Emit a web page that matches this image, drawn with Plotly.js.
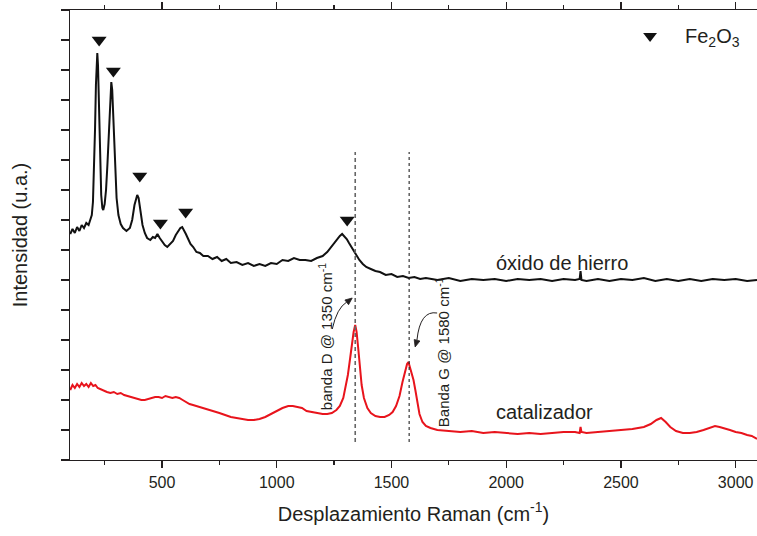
<!DOCTYPE html>
<html>
<head>
<meta charset="utf-8">
<script src="https://cdn.plot.ly/plotly-3.0.1.min.js"></script>
<style>html,body{margin:0;padding:0;background:#fff;}#chart{width:757px;height:536px;}</style>
</head>
<body>
<div id="chart"></div>
<script>
// Raman shift (cm-1) and intensity (a.u.)
var oxidoX = [100,110,120,130,140,150,160,170,180,188,194,199,204,208,212,215,218,221,225,230,235,240,244,250,256,262,267,272,276,279,283,287,292,297,302,310,320,330,345,360,370,380,388,392,398,405,415,425,435,449,460,470,480,490,500,512,523,535,548,560,570,580,588,596,604,614,624,636,650,665,680,700,720,740,760,780,800,825,850,875,900,925,950,975,1000,1025,1050,1075,1100,1125,1150,1175,1200,1220,1240,1260,1275,1285,1295,1305,1315,1325,1335,1345,1360,1375,1390,1410,1430,1450,1475,1500,1525,1550,1575,1600,1625,1650,1700,1750,1800,1850,1900,1950,2000,2050,2100,2150,2200,2250,2300,2320,2324,2328,2350,2400,2450,2500,2550,2600,2650,2700,2750,2800,2850,2900,2950,3000,3050,3093];
var oxidoY = [226,231,227,233,229,235,232,237,235,240,245,258,290,330,375,400,407,395,350,295,265,252,250,256,270,295,325,355,372,378,370,350,315,285,262,245,236,232,229,232,240,255,264,265,262,250,235,227,222,220,223,222,226,222,219,215,213,216,219,225,229,232,233,230,226,221,216,213,208,207,204,204,201,203,199,201,197,198,195,197,194,196,194,197,196,200,199,202,200,200,199,202,204,208,214,220,224,226,224,221,217,213,209,205,200,196,193,191,189,188,185,186,183,184,182,183,181,182,180,182,179,181,180,181,179,181,180,181,179,181,180,181,189,180,179,181,179,181,180,182,179,181,179,181,179,181,180,181,179,180];

var catX = [100,110,120,130,140,150,160,170,180,190,200,210,220,230,245,260,275,290,305,320,335,350,365,380,395,410,425,440,455,470,485,500,515,530,545,560,575,590,605,620,635,650,670,690,710,730,750,775,800,825,850,875,900,925,950,975,1000,1025,1050,1070,1090,1110,1130,1150,1175,1200,1220,1240,1260,1275,1290,1300,1310,1320,1328,1335,1342,1348,1355,1362,1370,1380,1395,1410,1430,1450,1470,1490,1505,1520,1535,1548,1560,1568,1574,1580,1588,1596,1604,1612,1622,1635,1650,1670,1700,1750,1800,1850,1900,1950,2000,2050,2100,2150,2200,2250,2300,2320,2324,2328,2350,2400,2450,2500,2550,2600,2630,2655,2675,2695,2715,2740,2770,2800,2830,2860,2890,2910,2930,2950,2975,3000,3025,3050,3070,3093];
var catY = [70,75,72,76,73,77,74,76,73,77,74,75,72,71,69,68,67,68,66,67,65,64,63,62,61,60,60,61,62,63,63,62,64,63,62,63,62,60,58,56,55,54,53,51,50,49,47,45,43,42,41,40,40,41,43,46,49,52,54,54,53,52,49,48,47,46,46,47,50,54,62,72,85,102,118,128,135,128,112,92,75,62,52,47,44,43,43,45,48,54,64,78,90,96,98,93,86,80,70,58,46,38,34,32,30,29,28,29,27,28,27,26,27,26,27,28,28,27,33,28,27,28,29,30,31,33,36,40,42,38,33,29,27,27,28,30,32,34,33,32,30,28,27,25,24,21];

// Fe2O3 band markers
var fePeakX = [226,288,403,493,603,1307];
var fePeakY = [420,389,284,237,248,240];
var legendX = [2627], legendY = [424];

// Reference lines for D and G bands
var bandDX = 1342, bandGX = 1577;
var bandLineY = [18, 308];

var font = 'Liberation Sans, Arial, sans-serif';
var ink = '#231f20';

var traces = [
  {x: oxidoX, y: oxidoY, type: 'scatter', mode: 'lines', line: {color: '#111111', width: 2}, hoverinfo: 'skip'},
  {x: catX, y: catY, type: 'scatter', mode: 'lines', line: {color: '#e8141c', width: 2}, hoverinfo: 'skip'},
  {x: fePeakX, y: fePeakY, type: 'scatter', mode: 'markers', marker: {symbol: 'triangle-down', size: 13, color: '#111111'}, hoverinfo: 'skip'},
  {x: legendX, y: legendY, type: 'scatter', mode: 'markers', marker: {symbol: 'triangle-down', size: 12, color: '#111111'}, hoverinfo: 'skip'}
];

var layout = {
  width: 757, height: 536,
  margin: {l: 70, r: 0, t: 10, b: 76},
  showlegend: false,
  paper_bgcolor: '#ffffff', plot_bgcolor: '#ffffff',
  font: {family: font, color: ink},
  xaxis: {
    range: [99, 3093], tick0: 0, dtick: 500,
    ticks: 'outside', ticklen: 7, tickwidth: 1.3, tickcolor: ink,
    minor: {ticks: 'outside', tick0: 0, dtick: 250, ticklen: 4, tickwidth: 1.3, tickcolor: ink},
    showline: true, linecolor: ink, linewidth: 1.3, mirror: 'ticks',
    showgrid: false, zeroline: false,
    tickfont: {size: 16, family: font, color: ink},
    title: {text: 'Desplazamiento Raman (cm<sup>-1</sup>)', font: {size: 20, family: font, color: ink}, standoff: 17}
  },
  yaxis: {
    range: [0, 450], tick0: 0, dtick: 30,
    ticks: 'outside', ticklen: 8, tickwidth: 1.3, tickcolor: ink,
    showticklabels: false,
    showline: true, linecolor: ink, linewidth: 1.3, mirror: false,
    showgrid: false, zeroline: false,
    title: {text: 'Intensidad (u.a.)', font: {size: 20, family: font, color: ink}, standoff: 27}
  },
  shapes: [
    {type: 'line', xref: 'x', yref: 'y', x0: bandDX, x1: bandDX, y0: bandLineY[0], y1: bandLineY[1], line: {color: '#666666', width: 1.6, dash: '4px,3px'}},
    {type: 'line', xref: 'x', yref: 'y', x0: bandGX, x1: bandGX, y0: bandLineY[0], y1: bandLineY[1], line: {color: '#222222', width: 1.1, dash: 'dot'}},
    {type: 'path', xref: 'x', yref: 'y', path: 'M1242,131 Q1262,152 1305,158', line: {color: ink, width: 1}},
    {type: 'path', xref: 'x', yref: 'y', path: 'M1329,162 L1313,155.3 L1297,160 Z', fillcolor: ink, line: {color: ink, width: 0.8}},
    {type: 'path', xref: 'x', yref: 'y', path: 'M1699,147 Q1625,150 1611,120', line: {color: ink, width: 1}},
    {type: 'path', xref: 'x', yref: 'y', path: 'M1603,113 L1624,119 L1599,120.5 Z', fillcolor: ink, line: {color: ink, width: 0.8}}
  ],
  annotations: [
    {x: 1947, y: 197, xref: 'x', yref: 'y', text: 'óxido de hierro', showarrow: false, xanchor: 'left', yanchor: 'middle', font: {size: 20, family: font, color: ink}},
    {x: 1947, y: 48, xref: 'x', yref: 'y', text: 'catalizador', showarrow: false, xanchor: 'left', yanchor: 'middle', font: {size: 20, family: font, color: ink}},
    {x: 1211, y: 123, xref: 'x', yref: 'y', text: 'banda D @ 1350 cm<sup>-1</sup>', textangle: -90, showarrow: false, xanchor: 'center', yanchor: 'middle', font: {size: 15, family: font, color: ink}},
    {x: 1721, y: 108, xref: 'x', yref: 'y', text: 'Banda G @ 1580 cm<sup>-1</sup>', textangle: -90, showarrow: false, xanchor: 'center', yanchor: 'middle', font: {size: 15, family: font, color: ink}},
    {x: 2770, y: 423, xref: 'x', yref: 'y', text: 'Fe<sub>2</sub>O<sub>3</sub>', showarrow: false, xanchor: 'left', yanchor: 'middle', font: {size: 20, family: font, color: ink}}
  ]
};

Plotly.newPlot('chart', traces, layout, {staticPlot: true, displayModeBar: false});
</script>
</body>
</html>
